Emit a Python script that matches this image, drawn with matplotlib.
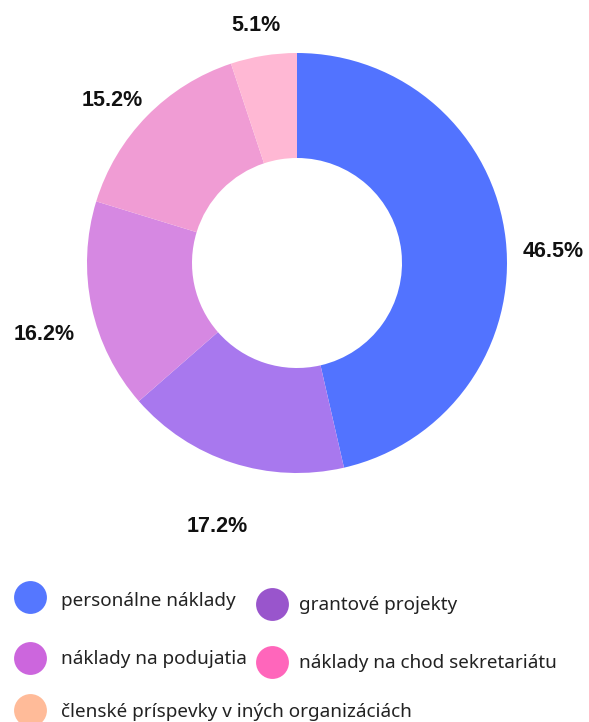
import numpy as np
import matplotlib
matplotlib.use("Agg")
import matplotlib.pyplot as plt

# data
labels = ["personálne náklady", "grantové projekty", "náklady na podujatia",
          "náklady na chod sekretariátu", "členské príspevky v iných organizáciách"]
values = [46.5, 17.2, 16.2, 15.2, 5.1]
slice_colors = ["#5273FF", "#A878EE", "#D688E2", "#F09CD4", "#FFB8D4"]
legend_colors = ["#5577FF", "#9955CC", "#CC66DD", "#FF66BB", "#FFBB99"]

W, H = 589, 722
fig = plt.figure(figsize=(W / 100, H / 100), dpi=100)

# donut axes: centre (297, 263) px, radius 210 px
cx, cy, R = 297, 263, 210
ax = fig.add_axes([(cx - R) / W, (H - cy - R) / H, 2 * R / W, 2 * R / H])
ax.axis("off")

ax.pie(values, colors=slice_colors, startangle=90, counterclock=False,
       radius=1, wedgeprops=dict(width=0.5, linewidth=0))
ax.set_xlim(-1, 1)
ax.set_ylim(-1, 1)

# percentage labels outside the ring
total = sum(values)
start = 90.0
for v in values:
    sweep = 360.0 * v / total
    mid = np.deg2rad(start - sweep / 2)
    start -= sweep
    x = 1.23 * np.cos(mid)
    y = 1.23 * np.sin(mid) - 0.085
    ax.text(x, y, f"{v}%", ha="center", va="center", fontsize=15.5,
            fontweight="bold", family=["Liberation Sans", "DejaVu Sans"],
            color="#111111", clip_on=False)

# legend drawn in pixel coordinates
lg = fig.add_axes([0, 0, 1, 1])
lg.set_xlim(0, W)
lg.set_ylim(H, 0)
lg.axis("off")
lg.patch.set_alpha(0)

marker_pos = [(30, 597), (272, 604), (30, 658), (272, 662), (30, 710)]
text_pos = [(61, 601), (299, 605), (61, 659), (299, 663), (61, 712)]
for (mx, my), (tx, ty), col, lab in zip(marker_pos, text_pos, legend_colors, labels):
    lg.scatter([mx], [my], s=560, color=col, linewidths=0)
    lg.text(tx, ty, lab, ha="left", va="center", fontsize=13.6,
            family=["Noto Sans", "DejaVu Sans"], color="#222222")

fig.savefig("out.png", dpi=100)
